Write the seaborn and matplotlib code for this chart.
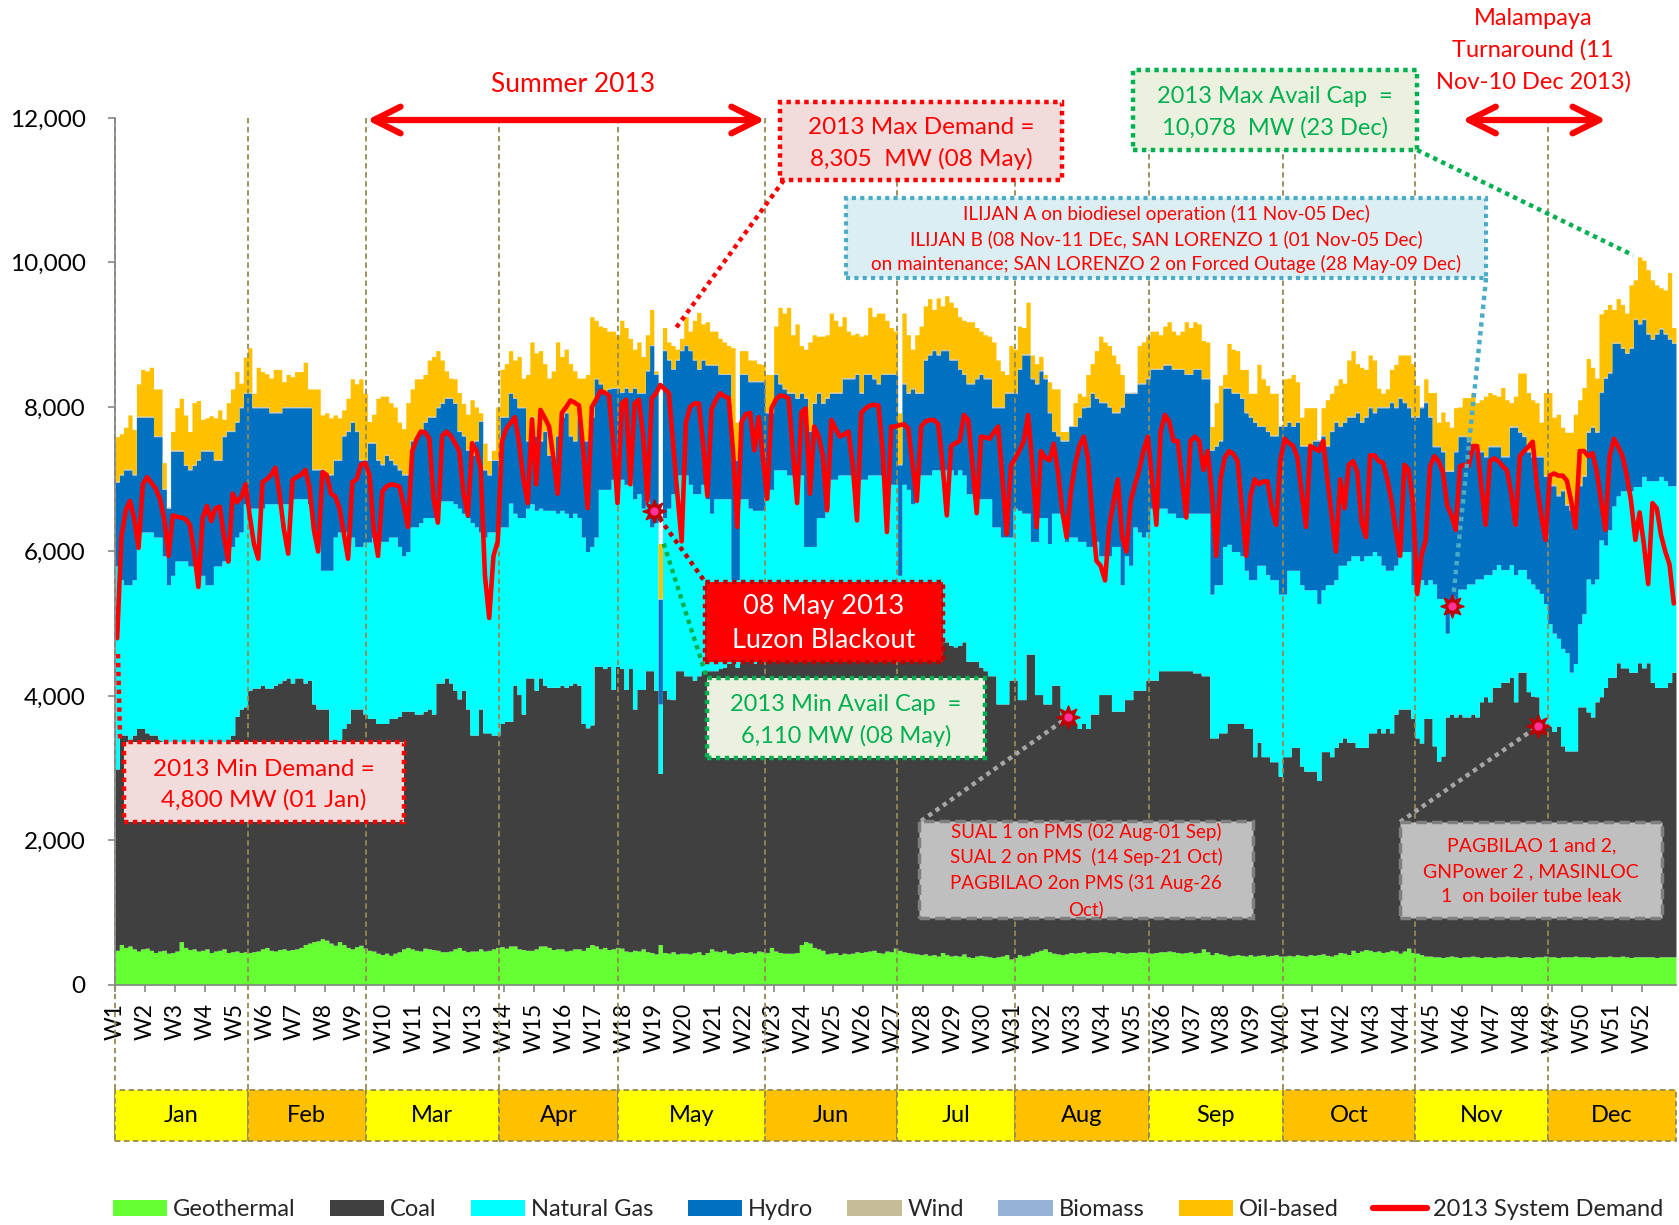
import numpy as np
import pandas as pd
import matplotlib
matplotlib.use("Agg")
import matplotlib.pyplot as plt
import matplotlib.transforms as mtransforms
from matplotlib.patches import Rectangle, Patch
from matplotlib.lines import Line2D
import seaborn as sns

sns.set_theme(style="white")
plt.rcParams['font.family'] = ['Lato', 'DejaVu Sans']

# ---------------- DATA (daily, 01 Jan .. 31 Dec 2013, MW) ----------------
week_labels = [f"W{k}" for k in range(1, 53)]
month_names = ["Jan", "Feb", "Mar", "Apr", "May", "Jun", "Jul", "Aug", "Sep", "Oct", "Nov", "Dec"]
month_edges = [0, 31, 58.6, 89.8, 117.6, 151.9, 182.9, 210.5, 241.8, 273, 304, 335.1, 365]

demand = [
    4800, 6200, 6570, 6700, 6450, 6050, 6930,
    7030, 6950, 6870, 6730, 6450, 5940, 6500,
    6480, 6470, 6450, 6370, 6000, 5510, 6470,
    6630, 6420, 6600, 6620, 6200, 5860, 6800,
    6680, 6750, 6930, 6500, 6100, 5900, 6960,
    7000, 7060, 7160, 6780, 6300, 5970, 6990,
    7030, 7060, 7130, 6880, 6300, 6000, 7100,
    7060, 6800, 6760, 6600, 6250, 5900, 6960,
    7000, 7200, 7230, 7060, 6300, 5940, 6830,
    6900, 6930, 6920, 6900, 6650, 6340, 7390,
    7550, 7660, 7650, 7560, 6730, 6400, 7600,
    7660, 7600, 7500, 7390, 6800, 6500, 7500,
    7400, 7150, 5670, 5080, 5940, 6140, 7530,
    7700, 7780, 7860, 7500, 7000, 6670, 7830,
    6930, 7960, 7850, 7730, 7300, 6800, 7920,
    8000, 8090, 8060, 8020, 7400, 6600, 8000,
    8100, 8220, 8200, 8160, 7500, 6670, 8050,
    8100, 6930, 8050, 8100, 7600, 6700, 8120,
    8190, 8305, 8250, 8190, 7500, 6800, 6140,
    7790, 8000, 8050, 8050, 7500, 6770, 7970,
    8100, 8190, 8150, 8120, 7400, 6340, 7790,
    7900, 7920, 7400, 7860, 7300, 6730, 7980,
    8100, 8160, 8150, 8120, 7400, 6670, 7930,
    7980, 6800, 7730, 7600, 7330, 6570, 7820,
    7700, 7590, 7620, 7660, 7200, 6430, 7920,
    7980, 8020, 8030, 8020, 7400, 6270, 7730,
    7730, 7750, 7760, 7700, 7200, 6700, 7730,
    7800, 7820, 7820, 7760, 7200, 6500, 7460,
    7500, 7530, 7890, 7820, 7200, 6530, 7590,
    7580, 7560, 7650, 7730, 7000, 6240, 7190,
    7290, 7400, 7530, 7890, 7200, 6340, 7390,
    7300, 7260, 7490, 7100, 6570, 6200, 6830,
    7200, 7460, 7590, 7300, 6500, 5870, 5800,
    5600, 6340, 6700, 7000, 6200, 6000, 6700,
    6930, 7130, 7400, 7590, 7000, 6370, 7660,
    7890, 7800, 7530, 7530, 7000, 6470, 7530,
    7590, 7530, 7130, 7390, 6800, 5940, 7000,
    7300, 7390, 7350, 7250, 6600, 5940, 6770,
    7000, 6930, 6970, 6970, 6600, 6370, 7260,
    7560, 7500, 7460, 7300, 6800, 6340, 7460,
    7430, 7390, 7530, 7000, 6500, 6000, 7000,
    6600, 7200, 7250, 7100, 6400, 6200, 7330,
    7330, 7250, 7230, 7000, 6700, 6270, 5940,
    7200, 7130, 6670, 5410, 5950, 6160, 7180,
    7320, 7250, 7100, 6640, 6500, 6300, 7180,
    7200, 7180, 7460, 7460, 6900, 6370, 7250,
    7290, 7250, 7180, 7120, 6800, 6370, 7320,
    7390, 7450, 7520, 6910, 6500, 6160, 7050,
    7080, 7050, 7050, 6980, 6700, 6330, 7390,
    7390, 7320, 7360, 7100, 6700, 6300, 7320,
    7560, 7450, 7320, 7050, 6700, 6160, 6540,
    6100, 5550, 6670, 6600, 6230, 6000, 5820,
    5280,
]

# geothermal output (MW)
geothermal = [
    480, 560, 520, 540, 500, 470, 500,
    510, 480, 450, 470, 480, 440, 450,
    470, 600, 520, 490, 500, 470, 480,
    500, 450, 470, 480, 500, 450, 460,
    470, 450, 460, 450, 460, 470, 500,
    520, 480, 470, 490, 500, 480, 490,
    500, 520, 560, 580, 600, 610, 640,
    620, 580, 550, 600, 560, 520, 500,
    530, 550, 510, 480, 470, 440, 420,
    440, 410, 440, 460, 500, 520, 500,
    480, 470, 510, 500, 490, 480, 460,
    460, 470, 500, 520, 480, 460, 470,
    470, 500, 470, 480, 500, 520, 530,
    510, 540, 540, 500, 490, 480, 480,
    500, 540, 540, 520, 490, 500, 500,
    470, 480, 500, 500, 480, 520, 560,
    540, 500, 520, 490, 500, 520, 510,
    470, 460, 480, 470, 500, 460, 450,
    430, 560, 450, 440, 460, 430, 440,
    440, 430, 450, 460, 420, 450, 500,
    470, 460, 480, 440, 430, 450, 460,
    450, 460, 440, 470, 460, 450, 520,
    470, 450, 440, 440, 440, 450, 560,
    600, 580, 520, 500, 480, 430, 440,
    450, 420, 440, 430, 440, 460, 450,
    460, 470, 480, 450, 440, 470, 460,
    510, 480, 460, 450, 440, 430, 420,
    430, 410, 420, 400, 450, 420, 400,
    410, 400, 430, 390, 380, 400, 410,
    400, 390, 380, 390, 400, 420, 360,
    380, 420, 400, 410, 440, 460, 480,
    500, 460, 440, 430, 420, 430, 450,
    440, 450, 460, 440, 450, 450, 460,
    460, 450, 440, 460, 450, 440, 450,
    450, 460, 460, 450, 440, 450, 460,
    460, 470, 460, 450, 440, 450, 460,
    440, 450, 500, 460, 420, 450, 430,
    420, 400, 410, 420, 410, 400, 420,
    400, 410, 420, 400, 410, 420, 400,
    400, 410, 400, 420, 410, 400, 420,
    410, 420, 430, 410, 400, 420, 450,
    440, 420, 480, 450, 470, 490, 480,
    460, 470, 450, 460, 480, 470, 440,
    470, 510, 450, 440, 420, 400, 400,
    390, 390, 380, 390, 400, 390, 380,
    390, 390, 400, 390, 380, 390, 390,
    380, 390, 390, 400, 390, 390, 380,
    390, 390, 380, 390, 390, 400, 390,
    390, 380, 390, 390, 390, 400, 390,
    390, 390, 380, 390, 390, 390, 400,
    390, 390, 400, 390, 380, 390, 390,
    390, 390, 390, 380, 390, 390, 390,
    390,
]

# cumulative level: geothermal + coal
coal_top = [
    2990, 3460, 3460, 3390, 3460, 3550, 3550,
    3490, 3460, 3460, 3390, 3300, 3250, 3250,
    3250, 3250, 3200, 3200, 3250, 3250, 3300,
    3300, 3300, 3300, 3250, 3300, 3390, 3460,
    3720, 3820, 3850, 4080, 4110, 4110, 4150,
    4110, 4110, 4150, 4180, 4220, 4250, 4180,
    4250, 4250, 4180, 4220, 3890, 3820, 3820,
    3820, 3390, 3390, 3390, 3550, 3620, 3820,
    3820, 3820, 3750, 3690, 3690, 3620, 3620,
    3620, 3690, 3690, 3720, 3790, 3790, 3790,
    3750, 3750, 3790, 3820, 3750, 4180, 4180,
    4250, 4180, 4080, 3960, 4080, 3820, 3460,
    3460, 3820, 3490, 3490, 3460, 3460, 3620,
    3650, 3650, 4150, 4020, 3750, 4250, 4250,
    4080, 4250, 4150, 4120, 4120, 4120, 4150,
    4120, 4150, 4180, 4150, 3620, 3560, 3600,
    4410, 4410, 4380, 4410, 4090, 4410, 4380,
    4090, 4380, 3820, 4090, 4090, 4350, 4350,
    4080, 2930, 4080, 3960, 3950, 4350, 4350,
    4280, 4280, 4220, 4280, 4350, 4350, 4350,
    4350, 4380, 4400, 4450, 4450, 4400, 4450,
    4500, 4500, 4450, 4500, 4550, 4550, 4500,
    4550, 4600, 4550, 4600, 4650, 4600, 4550,
    4500, 4550, 4600, 4650, 4600, 4650, 4700,
    4700, 4650, 4600, 4650, 4700, 4700, 4650,
    4700, 4650, 4700, 4750, 4700, 4650, 4700,
    4700, 4650, 4700, 4750, 4700, 4650, 4700,
    4700, 4750, 4700, 4700, 4750, 4750, 4700,
    4680, 4700, 4750, 4480, 4480, 4480, 4400,
    4350, 4280, 4280, 3890, 3890, 3890, 4220,
    4220, 3950, 3950, 4580, 4580, 4020, 4020,
    3890, 3890, 4150, 4150, 3690, 3690, 3620,
    3620, 3550, 3620, 3550, 3750, 3750, 4020,
    4020, 4020, 3790, 3790, 3790, 3950, 3950,
    4080, 4080, 4080, 4220, 4220, 4220, 4350,
    4350, 4350, 4350, 4350, 4350, 4350, 4350,
    4320, 4320, 4280, 4280, 3420, 3420, 3490,
    3490, 3620, 3620, 3620, 3620, 3550, 3550,
    3160, 3360, 3160, 3160, 3090, 3090, 2890,
    3160, 3160, 3290, 3290, 3030, 2960, 2960,
    2960, 2830, 3230, 3230, 3160, 3290, 3360,
    3420, 3360, 3360, 3290, 3290, 3290, 3490,
    3490, 3550, 3490, 3550, 3490, 3750, 3820,
    3820, 3820, 3690, 3420, 3350, 3690, 3690,
    3310, 3100, 3170, 3710, 3750, 3710, 3750,
    3710, 3710, 3750, 3710, 3920, 3990, 3920,
    4120, 4120, 4190, 4190, 4260, 3920, 4330,
    4330, 4060, 4000, 3990, 3580, 3580, 3580,
    3510, 3580, 3310, 3240, 3240, 3240, 3850,
    3850, 3780, 3710, 3920, 3990, 4120, 4260,
    4260, 4460, 4390, 4390, 4330, 4330, 4460,
    4390, 4460, 4190, 4120, 4120, 4120, 4190,
    4330,
]

# cumulative level: + natural gas
gas_top = [
    5800, 5610, 5540, 5540, 5610, 6270, 6270,
    6270, 6270, 6200, 6200, 5940, 5540, 5670,
    5870, 5870, 5870, 5800, 5800, 5800, 5670,
    5540, 5540, 5800, 5800, 5870, 5870, 6070,
    6200, 6270, 6660, 6600, 6600, 6600, 6600,
    6660, 6660, 6660, 6660, 6660, 6660, 6730,
    6730, 6730, 6730, 6660, 6270, 6130, 5740,
    5740, 5740, 6200, 6270, 6270, 6270, 6200,
    6070, 6070, 6130, 6130, 6200, 6140, 6140,
    6140, 6200, 6200, 6070, 5940, 6000, 6340,
    6340, 6400, 6470, 6470, 6470, 6660, 6700,
    6700, 6700, 6660, 6600, 6530, 6470, 6400,
    6340, 6270, 6200, 6270, 6270, 6270, 6340,
    6340, 6670, 6530, 6470, 6470, 6600, 6660,
    6570, 6600, 6570, 6570, 6570, 6530, 6570,
    6530, 6470, 6530, 6470, 6200, 6000, 6070,
    6200, 6860, 6860, 6860, 7000, 7000, 7000,
    6930, 7060, 6730, 6800, 6600, 6730, 6340,
    6400, 3890, 6470, 6600, 6800, 7060, 7060,
    7060, 6930, 6800, 6800, 6930, 6730, 6530,
    6730, 6730, 6730, 6730, 5610, 5610, 6730,
    6730, 6600, 6570, 6570, 6570, 6860, 6860,
    7130, 7130, 7130, 7060, 7060, 7060, 7060,
    6070, 6070, 6070, 6470, 6470, 6600, 7000,
    7000, 7060, 7060, 7060, 7060, 7000, 7000,
    7000, 7060, 7060, 7060, 7060, 6930, 6930,
    6930, 5670, 6930, 6860, 6660, 6860, 7060,
    7060, 7060, 7130, 7130, 7060, 7130, 7130,
    7060, 7130, 7060, 6800, 6800, 6800, 6730,
    6730, 6730, 6340, 6340, 6200, 6200, 6200,
    6600, 6570, 6530, 6530, 6140, 6140, 6470,
    6470, 6110, 6530, 6530, 6470, 6140, 6200,
    6200, 6140, 6140, 6070, 6070, 6140, 5940,
    5940, 5940, 6070, 6070, 5540, 5940, 5810,
    6340, 6270, 6200, 6270, 6600, 6600, 6600,
    6600, 6530, 6530, 6470, 6470, 6530, 6530,
    6530, 6530, 6530, 6530, 5410, 5540, 5540,
    6070, 6100, 6000, 6000, 5940, 5740, 5610,
    5610, 5810, 5810, 5680, 5610, 5610, 5410,
    5410, 5740, 5740, 5740, 5540, 5470, 5470,
    5470, 5280, 5470, 5540, 5540, 5610, 5810,
    5810, 5870, 5940, 5940, 5870, 5940, 5940,
    6000, 5940, 5810, 5740, 5740, 5810, 6000,
    6000, 6000, 5540, 5540, 5610, 5540, 5610,
    5550, 5350, 5350, 4870, 5140, 5140, 5480,
    5480, 5550, 5550, 5620, 5620, 5680, 5680,
    5750, 5820, 5750, 5750, 5820, 5680, 5750,
    5750, 5620, 5550, 5480, 5420, 5280, 5000,
    4870, 4800, 4660, 4600, 4330, 4450, 5000,
    5140, 5620, 5550, 5620, 6160, 6090, 6300,
    6630, 6770, 6840, 6840, 6840, 6900, 6900,
    7040, 6980, 6980, 6980, 7040, 6980, 6910,
    6910,
]

# cumulative level: + hydro
hydro_top = [
    6960, 7060, 7130, 7130, 7060, 7860, 7860,
    7860, 7860, 7590, 7590, 6860, 6600, 7390,
    7390, 7390, 7190, 7130, 7190, 7260, 7390,
    7390, 7390, 7260, 7260, 7590, 7660, 7660,
    7790, 7990, 8190, 8190, 7990, 7990, 7990,
    7990, 7920, 7920, 7920, 7990, 7990, 7990,
    7990, 7990, 7990, 7990, 7130, 7130, 7130,
    7060, 7060, 7260, 7260, 7600, 7660, 7790,
    7660, 7260, 7260, 7500, 7500, 7260, 7200,
    7330, 7260, 7200, 7130, 7060, 7060, 7530,
    7600, 7660, 7790, 7860, 7860, 7990, 8050,
    8120, 8120, 8050, 7660, 7600, 7400, 7330,
    7530, 7800, 7130, 7060, 7260, 7260, 7860,
    7860, 8190, 8120, 7990, 7990, 7530, 7860,
    7600, 7530, 7660, 7330, 7260, 7600, 7860,
    7920, 7600, 7530, 7860, 7530, 7530, 7860,
    8390, 8320, 8190, 8250, 8260, 8260, 8200,
    8260, 8200, 8260, 8190, 8190, 8500, 8850,
    8450, 5340, 8780, 8650, 8520, 8650, 8780,
    8850, 8780, 8650, 8520, 8650, 8580, 8580,
    8580, 8450, 8450, 8450, 7260, 7260, 8450,
    8450, 8350, 8350, 8350, 8350, 7920, 7920,
    8450, 8320, 8250, 8190, 8190, 8120, 8190,
    8120, 7660, 8050, 8190, 8050, 8120, 8190,
    8190, 8190, 8390, 8390, 8390, 8450, 8190,
    8450, 8450, 8390, 8320, 8450, 8450, 8450,
    8450, 7200, 8320, 8190, 8250, 8190, 8190,
    8650, 8720, 8780, 8720, 8780, 8780, 8650,
    8650, 8520, 8450, 8320, 8320, 8390, 8450,
    8390, 8390, 7990, 7990, 7990, 8190, 8190,
    8190, 8520, 8720, 8720, 8390, 8320, 8500,
    8390, 7920, 7660, 7600, 7530, 7530, 7730,
    7730, 7860, 7990, 8000, 8190, 8120, 8060,
    8060, 8000, 7920, 7920, 8000, 8190, 8190,
    8190, 8320, 8320, 8390, 8520, 8520, 8520,
    8580, 8580, 8520, 8520, 8520, 8450, 8450,
    8520, 8520, 8390, 8390, 7400, 7460, 7530,
    8260, 8260, 8190, 8190, 8120, 7920, 7860,
    7790, 7730, 7730, 7660, 7600, 7600, 7730,
    7730, 7790, 7730, 7790, 7460, 7460, 7460,
    7530, 7530, 7600, 7460, 7660, 7790, 7730,
    7790, 7860, 7860, 7920, 7790, 7860, 7990,
    7920, 7990, 7990, 7990, 8060, 7990, 8120,
    8060, 7990, 7860, 7860, 7990, 8060, 7860,
    7450, 7450, 7380, 7110, 7110, 7380, 7590,
    7590, 7520, 7450, 7380, 7380, 7310, 7450,
    7450, 7450, 7310, 7310, 7720, 7720, 7650,
    7590, 7380, 7310, 7310, 7310, 7040, 6910,
    6910, 6770, 6840, 6640, 6570, 6500, 6910,
    7040, 7650, 7720, 7650, 8200, 8400, 8470,
    8880, 8880, 8810, 8740, 8810, 9210, 9150,
    9210, 9010, 8940, 9010, 9080, 9010, 8940,
    8880,
]

# weekly wind and biomass output (MW, very small)
wind_weekly = [8, 9, 10, 9, 8, 7, 8, 9, 10, 9, 8, 7, 6, 6, 7, 6, 5, 5, 6, 6, 7, 8, 9, 10, 9,
               10, 11, 10, 9, 10, 11, 10, 9, 8, 9, 8, 7, 8, 9, 8, 9, 10, 11, 12, 12, 13, 12,
               13, 14, 13, 12, 12, 12]
biomass_weekly = [6, 6, 6, 7, 7, 7, 6, 6, 6, 7, 7, 7, 7, 6, 6, 6, 7, 7, 7, 6, 6, 6, 7, 7, 7,
                  6, 6, 6, 7, 7, 7, 6, 6, 6, 7, 7, 7, 6, 6, 6, 7, 7, 7, 6, 6, 6, 7, 7, 7,
                  6, 6, 6, 6]

# cumulative level: total available capacity (incl. oil-based)
oil_top = [
    7590, 7630, 7720, 7890, 7690, 8320, 8520,
    8500, 8550, 8250, 8250, 7230, 6600, 7660,
    7990, 8120, 7890, 7660, 8060, 8090, 7830,
    7850, 7880, 7850, 7960, 7830, 8060, 8250,
    8490, 8330, 8690, 8820, 8190, 8550, 8490,
    8460, 8400, 8520, 8520, 8350, 8450, 8420,
    8490, 8490, 8620, 8250, 8250, 8250, 7890,
    7920, 7850, 7890, 7850, 7960, 8120, 8390,
    8320, 8390, 8190, 7800, 7900, 8120, 8150,
    8150, 8060, 8000, 7790, 7700, 8060, 8250,
    8390, 8390, 8450, 8650, 8700, 8780, 8650,
    8500, 8400, 8390, 8200, 8050, 7900, 8100,
    8000, 7920, 7500, 7260, 7400, 8000, 8520,
    8600, 8780, 8650, 8700, 8400, 8450, 8900,
    8750, 8780, 8600, 8400, 8500, 8900, 8700,
    8800, 8600, 8500, 8400, 8400, 8450, 9250,
    9200, 9120, 9100, 9050, 9050, 9000, 9200,
    9100, 8950, 8800, 8900, 8700, 9000, 9350,
    8500, 6110, 9100, 8900, 8850, 8800, 8950,
    9250, 9050, 9200, 9310, 9150, 9180, 9050,
    9050, 8950, 8900, 8850, 8820, 7790, 8780,
    8780, 8650, 8650, 8600, 8590, 8450, 8450,
    9120, 9380, 9300, 9380, 9000, 9150, 8850,
    8800, 8900, 9000, 8980, 8980, 9000, 9300,
    9200, 9120, 9250, 9050, 9000, 9020, 8980,
    9000, 9380, 9250, 9300, 9300, 9200, 9100,
    9050, 7920, 9300, 9000, 8800, 9000, 9120,
    9400, 9500, 9350, 9510, 9400, 9540, 9450,
    9380, 9250, 9200, 9180, 9180, 9100, 9050,
    9000, 8980, 8900, 8650, 8500, 8450, 8850,
    8800, 9120, 9100, 9450, 8720, 8600, 8700,
    8450, 8350, 8250, 8250, 7660, 7660, 7700,
    8060, 8190, 8150, 8450, 8600, 8780, 8980,
    8900, 8850, 8720, 8600, 8450, 8190, 8190,
    8200, 8850, 8900, 8980, 9050, 9050, 9000,
    9120, 9180, 9050, 9000, 9050, 9180, 9100,
    9180, 9150, 8920, 8900, 7730, 8060, 8300,
    8450, 8880, 8800, 8780, 8520, 8520, 8190,
    8190, 8590, 8390, 8300, 8190, 8190, 7530,
    8390, 8400, 8450, 8350, 7860, 7990, 7990,
    7990, 7460, 7990, 8100, 8190, 8300, 8390,
    8330, 8650, 8780, 8600, 8550, 8520, 8720,
    8650, 8260, 8190, 8250, 8520, 8590, 8720,
    8720, 8720, 8600, 8300, 7260, 8390, 8200,
    8200, 7790, 7930, 7800, 7720, 7990, 8000,
    8130, 8130, 8200, 8060, 8100, 8150, 8200,
    8170, 8150, 8270, 8100, 8060, 8150, 8470,
    8470, 8200, 8100, 8060, 7790, 8200, 8200,
    7860, 7900, 7720, 7650, 7650, 7900, 8100,
    8270, 8670, 8550, 8400, 9290, 9350, 9420,
    9350, 9500, 9420, 9300, 9690, 9760, 10078,
    10030, 9900, 9760, 9690, 9650, 9620, 9860,
    9100,
]

source_names = ["Geothermal", "Coal", "Natural Gas", "Hydro", "Wind", "Biomass", "Oil-based"]
source_colors = ["#66FF33", "#404040", "#00FFFF", "#0070C0", "#C4BD97", "#95B3D7", "#FFC000"]

# ---------------- FIGURE ----------------
fig = plt.figure(figsize=(16.79, 12.25), dpi=100)
ax = fig.add_axes([0.06849, 0.19592, 0.92970, 0.70776])

n = len(demand)
days = np.arange(n)
edges = np.arange(n + 1)

g = np.array(geothermal, float)
c = np.maximum(np.array(coal_top, float), g)
ng = np.maximum(np.array(gas_top, float), c)
hy = np.maximum(np.array(hydro_top, float), ng)
wd = hy + np.repeat(wind_weekly, 7)[:n]
bm = wd + np.repeat(biomass_weekly, 7)[:n]
ol = np.maximum(np.array(oil_top, float), bm)

levels = [np.zeros(n), g, c, ng, hy, wd, bm, ol]


def ext(a):
    return np.append(a, a[-1])


for i in range(7):
    ax.fill_between(edges, ext(levels[i]), ext(levels[i + 1]), step="post",
                    color=source_colors[i], lw=0, zorder=1)

# system demand line
df = pd.DataFrame({"day": days + 0.5, "demand": demand})
sns.lineplot(data=df, x="day", y="demand", color="#FF0000", lw=3.3, ax=ax,
             zorder=5, legend=False, sort=False)

ax.set_xlim(0, 365)
ax.set_ylim(0, 12000)
ax.set_xlabel("")
ax.set_ylabel("")
ax.set_yticks(np.arange(0, 12001, 2000))
ax.set_yticklabels([f"{v:,}" for v in range(0, 12001, 2000)])
ax.set_xticks(np.arange(52) * 7)
ax.set_xticklabels(week_labels, rotation=90)
for s in ["top", "right"]:
    ax.spines[s].set_visible(False)
for s in ["left", "bottom"]:
    ax.spines[s].set_color("#868686")
    ax.spines[s].set_linewidth(1.2)
    ax.spines[s].set_zorder(6)
ax.tick_params(axis="y", left=True, direction="out", length=5, width=1.2,
               color="#868686", pad=16, labelsize=17.5, labelcolor="black")
ax.tick_params(axis="x", bottom=True, direction="out", length=5, width=1.2,
               color="#868686", pad=8, labelsize=16.5, labelcolor="black")
ax.grid(False)

# month separators and month boxes
blend = mtransforms.blended_transform_factory(ax.transData, ax.transAxes)
box_top, box_bot = -0.1211, -0.1799
for b in month_edges[:-1]:
    ax.plot([b, b], [1.0, box_bot], transform=blend, color="#948A54", lw=1.3,
            ls=(0, (3, 2)), clip_on=False, zorder=3)
for i, name in enumerate(month_names):
    x0, x1 = month_edges[i], month_edges[i + 1]
    ax.add_patch(Rectangle((x0, box_bot), x1 - x0, box_top - box_bot, transform=blend,
                           facecolor="#FFFF00" if i % 2 == 0 else "#FFC000",
                           edgecolor="#948A54", lw=1.3, ls=(0, (3, 2)), clip_on=False, zorder=3))
    ax.text((x0 + x1) / 2, (box_top + box_bot) / 2, name, transform=blend, ha="center",
            va="center", fontsize=17, color="black", zorder=4)

# ---------------- ANNOTATIONS ----------------
RED, DRED, GREEN, BLUE, GREY = "#FF0000", "#C00000", "#00B050", "#4BACC6", "#7F7F7F"
DOT = (0, (1, 1))


def leader(p0, p1, color, lw=3.2):
    ax.plot([p0[0], p1[0]], [p0[1], p1[1]], color=color, lw=lw, ls=DOT,
            clip_on=False, zorder=6, solid_capstyle="butt")


def box(x0, x1, y0, y1, text, fc, ec, tc, fs, lsp, lw, ls, dy=-35):
    ax.add_patch(Rectangle((x0, y0), x1 - x0, y1 - y0, facecolor=fc, edgecolor=ec, lw=lw,
                           ls=ls, clip_on=False, zorder=7))
    ax.text((x0 + x1) / 2, (y0 + y1) / 2 + dy, text, ha="center", va="center", color=tc,
            fontsize=fs, linespacing=lsp, zorder=8, clip_on=False)


leader((156.4, 11141), (131, 9080), RED)
leader((304.5, 11556), (355, 10100), GREEN)
leader((320.6, 9785), (312.7, 5245), BLUE)
leader((126.1, 6563), (138, 5577), DRED)
leader((128.3, 6110), (138.4, 4249), GREEN)
leader((0.7, 4581), (1.2, 3363), RED)
leader((188.5, 2270), (222.9, 3709), "#A6A6A6")
leader((300.5, 2256), (332.8, 3585), "#A6A6A6")

box(155.5, 221.5, 11141, 12221, "2013 Max Demand =\n8,305  MW (08 May)",
    "#F2DCDB", RED, RED, 17.5, 1.55, 3.2, DOT)
box(238.1, 304.5, 11556, 12664, "2013 Max Avail Cap  =\n10,078  MW (23 Dec)",
    "#EBF1DE", GREEN, GREEN, 17, 1.55, 3.2, DOT)
box(171, 320.6, 9785, 10892,
    "ILIJAN A on biodiesel operation (11 Nov-05 Dec)\n"
    "ILIJAN B (08 Nov-11 DEc, SAN LORENZO 1 (01 Nov-05 Dec)\n"
    "on maintenance; SAN LORENZO 2 on Forced Outage (28 May-09 Dec)",
    "#DAEEF3", BLUE, RED, 13.6, 1.45, 3.0, DOT, dy=-15)
box(138, 193.6, 4470, 5577, "08 May 2013\nLuzon Blackout",
    "#FF0000", DRED, "white", 19.5, 1.42, 3.2, DOT, dy=-20)
box(138.4, 203.5, 3142, 4249, "2013 Min Avail Cap  =\n6,110 MW (08 May)",
    "#EBF1DE", GREEN, GREEN, 17, 1.55, 3.2, DOT)
box(2.1, 67.6, 2256, 3363, "2013 Min Demand =\n4,800 MW (01 Jan)",
    "#F2DCDB", RED, RED, 17.5, 1.5, 3.2, DOT)
box(188, 266.1, 927, 2270,
    "SUAL 1 on PMS (02 Aug-01 Sep)\nSUAL 2 on PMS  (14 Sep-21 Oct)\n"
    "PAGBILAO 2on PMS (31 Aug-26\nOct)",
    "#BFBFBF", GREY, RED, 13.5, 1.52, 2.5, (0, (3, 1.5)), dy=-10)
box(300.5, 361.8, 927, 2256,
    "PAGBILAO 1 and 2,\nGNPower 2 , MASINLOC\n1  on boiler tube leak",
    "#BFBFBF", GREY, RED, 14, 1.6, 2.5, (0, (3, 1.5)), dy=-20)

# event markers
for (mx, my) in [(126.1, 6563), (312.7, 5245), (222.9, 3709), (332.8, 3585)]:
    ax.plot([mx], [my], marker=(8, 1, 0), ms=17, mfc=DRED, mec=DRED, zorder=9, clip_on=False)
    ax.plot([mx], [my], marker="o", ms=5, mfc="#FF3399", mec="#FF3399", zorder=10, clip_on=False)

# period arrows
arrow_style = dict(arrowstyle="<->,head_length=1.6,head_width=0.8", color=RED, lw=4.5,
                   shrinkA=0, shrinkB=0)
ax.annotate("", xy=(152, 11972), xytext=(58.9, 11972), arrowprops=arrow_style,
            annotation_clip=False, zorder=8)
ax.text(107.1, 12470, "Summer 2013", ha="center", va="center", color=RED, fontsize=19,
        clip_on=False)
ax.annotate("", xy=(348.7, 11972), xytext=(315, 11972), arrowprops=arrow_style,
            annotation_clip=False, zorder=8)
ax.text(331.6, 12940, "Malampaya\nTurnaround (11\nNov-10 Dec 2013)", ha="center", va="center",
        color=RED, fontsize=17, linespacing=1.6, clip_on=False)

# legend
handles = [Patch(facecolor=col, edgecolor="none", label=nm)
           for nm, col in zip(source_names, source_colors)]
handles.append(Line2D([0], [0], color=RED, lw=4.5, label="2013 System Demand"))
fig.legend(handles=handles, loc="center", bbox_to_anchor=(0.529, 0.0125), ncol=8,
           frameon=False, fontsize=17, handlelength=2.3, handleheight=0.65,
           handletextpad=0.25, columnspacing=1.45)

fig.savefig("out.png", dpi=100)
